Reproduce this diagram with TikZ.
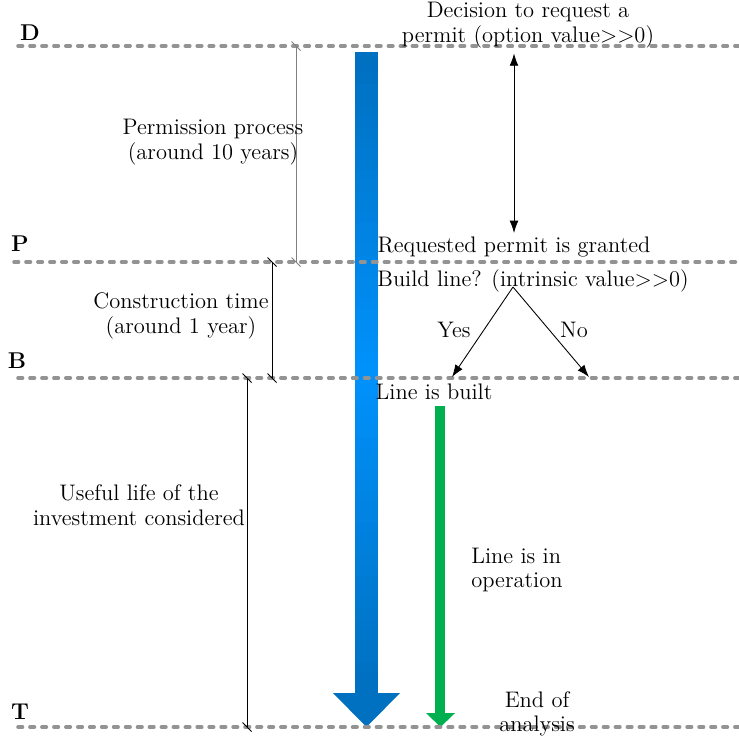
\documentclass[tikz,border=0pt]{standalone}
\usepackage{amsmath}
\usepackage{xcolor}
\usepackage{tikz}
\usetikzlibrary{arrows, arrows.meta}
\usetikzlibrary{positioning}
\usetikzlibrary{calc}
\definecolor{darkblue}{RGB}{0,112,192}
\definecolor{brightblue}{RGB}{0,146,252}
\definecolor{opgreen}{RGB}{0,176,80}

\begin{document}
\begin{tikzpicture}[x=0.02cm, y=-0.02cm,
	every node/.style={font=\fontsize{12.8}{14}\selectfont, align=center, inner sep=0pt},
	levelline/.style={draw=gray!85, line width=2pt, line cap=round, dash pattern=on 2.6pt off 4.2pt},
	levellabel/.style={font=\fontsize{13}{14}\selectfont\bfseries},
	dimline/.style={line width=0.5pt},
	flowarrow/.style={-{Latex[length=7pt,width=5pt]}, line width=0.5pt}]
			\useasboundingbox (0,0) rectangle (739,738);

			% big arrows first, the level lines go over them
			\foreach \iStrip[evaluate=\iStrip as \mixv using {100*(1-abs(\iStrip-29.5)/29.5)}, evaluate=\iStrip as \ytop using {52+\iStrip*10.7}] in {0,...,59}
			{
				\fill[brightblue!\mixv!darkblue] (355,\ytop) rectangle (378,\ytop+11);
			}
			\fill[darkblue] (333,693) -- (400,693) -- (366.5,727) -- cycle;
			\fill[opgreen] (435,406) rectangle (445,714);
			\fill[opgreen] (426,713) -- (455,713) -- (440.5,727) -- cycle;

			\foreach \lvl/\ylvl/\xs/\lx/\ly in {D/46/18/30/33, P/262/14/20/244, B/378/18/17/361, T/727/18/20/712}
			{
				\coordinate (\lvl-l) at (\xs,\ylvl);
				\coordinate (\lvl-r) at (739,\ylvl);
				\draw[levelline] (\lvl-l) -- (\lvl-r);
				\node[levellabel](lab\lvl) at (\lx,\ly){\lvl};
			}

			\foreach \iDim/\xd/\ya/\yb/\col in {1/296/46/262/gray, 2/272/262/378/black, 3/247/378/727/black}
			{
				\coordinate (dim\iDim-a) at (\xd,\ya);
				\coordinate (dim\iDim-b) at (\xd,\yb);
				\draw[dimline, \col] (dim\iDim-a) -- (dim\iDim-b);
				\draw[dimline, \col] ($(dim\iDim-a)+(-4.5,-4.5)$) -- ($(dim\iDim-a)+(4.5,4.5)$);
				\draw[dimline, \col] ($(dim\iDim-b)+(-4.5,-4.5)$) -- ($(dim\iDim-b)+(4.5,4.5)$);
			}

			\node(decide) at (528,25){Decision to request a\\permit (option value>{}>0)};
			\node(permission) at (213,142){Permission process\\(around 10 years)};
			\node(granted) at (514,247){Requested permit is granted};
			\node(build) at (533,281){Build line? (intrinsic value>{}>0)};
			\node(construct) at (181,316){Construction time\\(around 1 year)};
			\node(yes) at (454,330){Yes};
			\node(no) at (574,330){No};
			\node(built) at (434,392){Line is built};
			\node(useful) at (139,505){Useful life of the\\investment considered};
			\node[align=left, anchor=west](operation) at (471,570){Line is in\\operation};
			\node(endan) at (537,714){End of\\analysis};

			\draw[{Latex[length=7pt,width=5pt]}-{Latex[length=7pt,width=5pt]}, line width=0.5pt, shorten <=3pt, shorten >=2pt] (decide.south -| granted.north) -- (granted.north);

			\coordinate (fork) at (513,287);
			\coordinate (yesend) at (452,377);
			\coordinate (noend) at (589,377);
			\draw[flowarrow] (fork) -- (yesend);
			\draw[flowarrow] (fork) -- (noend);
		\end{tikzpicture}
\end{document}
